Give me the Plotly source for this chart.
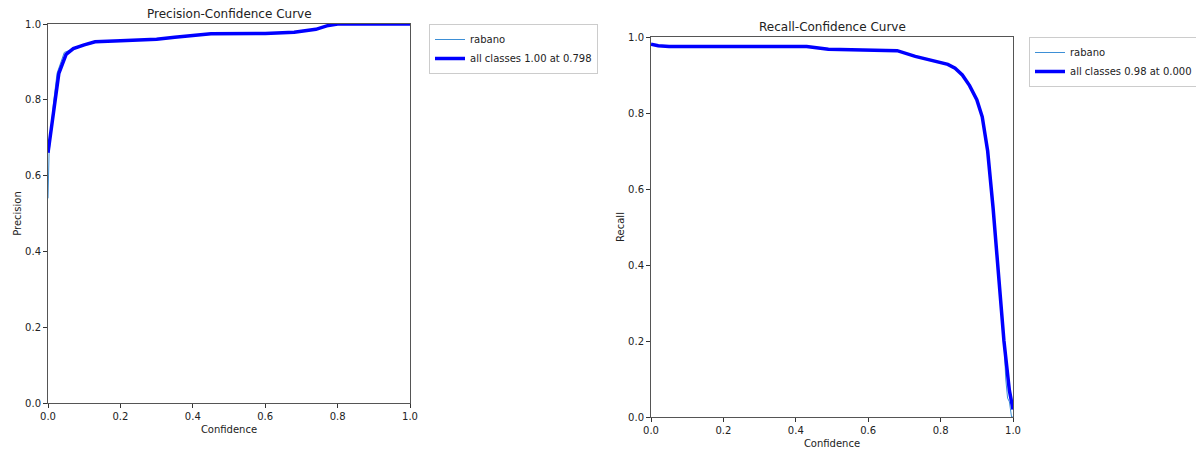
import plotly.graph_objects as go

# Precision-Confidence data
pc_conf = [0.0, 0.01, 0.02, 0.03, 0.05, 0.07, 0.10, 0.13, 0.20, 0.30, 0.35, 0.45, 0.60, 0.68, 0.74, 0.77, 0.80, 1.0]
pc_all = [0.66, 0.73, 0.80, 0.87, 0.92, 0.935, 0.945, 0.953, 0.956, 0.960, 0.965, 0.974, 0.975, 0.978, 0.986, 0.995, 1.0, 1.0]
pc_rab_conf = [0.0, 0.003, 0.015, 0.025, 0.045, 0.07, 0.10, 0.13, 0.20, 0.30, 0.35, 0.45, 0.60, 0.68, 0.74, 0.77, 0.80, 1.0]
pc_rab = [0.54, 0.66, 0.79, 0.87, 0.925, 0.935, 0.945, 0.953, 0.956, 0.960, 0.965, 0.974, 0.975, 0.978, 0.986, 0.995, 1.0, 1.0]

# Recall-Confidence data
rc_conf = [0.0, 0.02, 0.05, 0.20, 0.43, 0.49, 0.60, 0.68, 0.73, 0.78, 0.82, 0.84, 0.86, 0.88, 0.90, 0.915, 0.93, 0.945, 0.96, 0.975, 0.99, 1.0]
rc_all = [0.981, 0.977, 0.975, 0.975, 0.975, 0.968, 0.966, 0.964, 0.949, 0.938, 0.928, 0.918, 0.900, 0.872, 0.835, 0.79, 0.70, 0.55, 0.38, 0.20, 0.07, 0.02]
rc_rab_conf = [0.0, 0.02, 0.05, 0.20, 0.43, 0.49, 0.60, 0.68, 0.73, 0.78, 0.82, 0.84, 0.86, 0.88, 0.90, 0.915, 0.93, 0.945, 0.96, 0.975, 0.98, 0.985, 0.99, 0.996, 1.0]
rc_rab = [0.981, 0.977, 0.975, 0.975, 0.975, 0.968, 0.966, 0.964, 0.949, 0.938, 0.928, 0.918, 0.900, 0.872, 0.835, 0.79, 0.70, 0.55, 0.38, 0.20, 0.10, 0.05, 0.04, 0.0, 0.0]

ticks = [0.0, 0.2, 0.4, 0.6, 0.8, 1.0]
tick_text = ["0.0", "0.2", "0.4", "0.6", "0.8", "1.0"]

W, H = 1196, 450
FONT = "DejaVu Sans"
TXT = "#222222"
THIN = "#3d8fd6"

fig = go.Figure()
fig.add_trace(go.Scatter(x=pc_rab_conf, y=pc_rab, mode="lines", name="rabano",
                         line=dict(color=THIN, width=1), xaxis="x", yaxis="y", legend="legend"))
fig.add_trace(go.Scatter(x=pc_conf, y=pc_all, mode="lines", name="all classes 1.00 at 0.798",
                         line=dict(color="#0000ff", width=3.5), xaxis="x", yaxis="y", legend="legend"))
fig.add_trace(go.Scatter(x=rc_rab_conf, y=rc_rab, mode="lines", name="rabano",
                         line=dict(color=THIN, width=1), xaxis="x2", yaxis="y2", legend="legend2"))
fig.add_trace(go.Scatter(x=rc_conf, y=rc_all, mode="lines", name="all classes 0.98 at 0.000",
                         line=dict(color="#0000ff", width=3.5), xaxis="x2", yaxis="y2", legend="legend2"))

def ax(domain, anchor, title, standoff):
    return dict(domain=domain, anchor=anchor, range=[0, 1], tickvals=ticks, ticktext=tick_text,
                ticks="outside", ticklen=4, tickwidth=1, tickcolor="#333", automargin=False,
                showgrid=False, zeroline=False, showline=True, linecolor="#555", linewidth=1,
                mirror=True, tickfont=dict(family=FONT, size=10, color=TXT),
                title=dict(text=title, font=dict(family=FONT, size=10, color=TXT), standoff=standoff))

leg_common = dict(xanchor="left", yanchor="top", bordercolor="#cccccc", borderwidth=1,
                  bgcolor="white", font=dict(family=FONT, size=10, color=TXT),
                  tracegroupgap=0, itemwidth=30)

fig.update_layout(
    width=W, height=H, margin=dict(l=0, r=0, t=0, b=0, autoexpand=False),
    paper_bgcolor="white", plot_bgcolor="white",
    xaxis=ax([48 / W, 410 / W], "y", "Confidence", 4),
    yaxis=ax([1 - 403 / H, 1 - 24 / H], "x", "Precision", 1),
    xaxis2=ax([651 / W, 1013 / W], "y2", "Confidence", 4),
    yaxis2=ax([1 - 417 / H, 1 - 37 / H], "x2", "Recall", 1),
    legend=dict(x=429 / W, y=1 - 24 / H, **leg_common),
    legend2=dict(x=1029 / W, y=1 - 37 / H, **leg_common),
    annotations=[
        dict(text="Precision-Confidence Curve", x=(48 + 410) / 2 / W, y=1 - 14 / H,
             xref="paper", yref="paper", showarrow=False, xanchor="center", yanchor="middle",
             font=dict(family=FONT, size=12, color=TXT)),
        dict(text="Recall-Confidence Curve", x=(651 + 1013) / 2 / W, y=1 - 27 / H,
             xref="paper", yref="paper", showarrow=False, xanchor="center", yanchor="middle",
             font=dict(family=FONT, size=12, color=TXT)),
    ],
)

fig.write_html("out.html", config={"displayModeBar": False},
               post_script="document.body.style.margin='0';document.body.style.overflow='hidden';")
